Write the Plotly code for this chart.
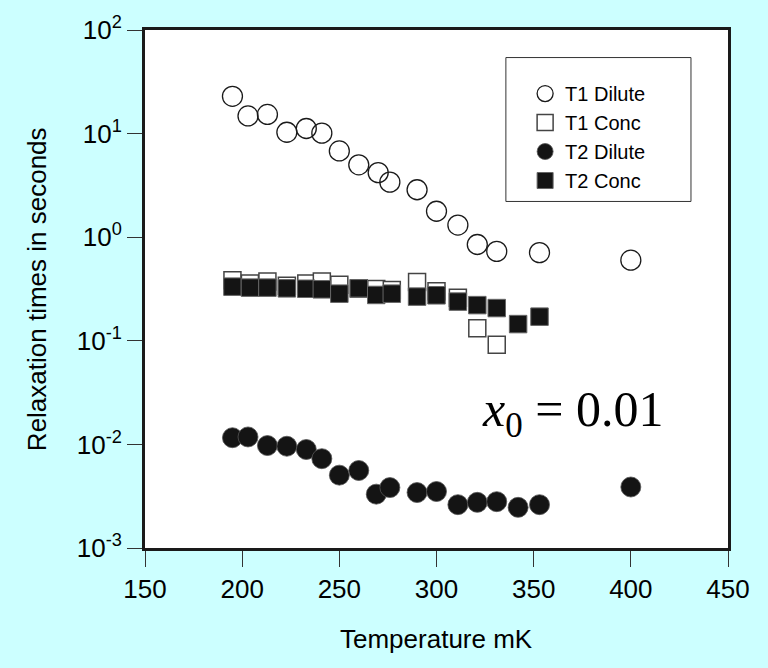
import plotly.graph_objects as go

# ---- data ----
temp_t1_dilute = [195, 203, 213, 223, 233, 241, 250, 260, 270, 276, 290, 300, 311, 321, 331, 353, 400]
t1_dilute = [22.9, 14.8, 15.3, 10.3, 11.2, 10.1, 6.8, 5.0, 4.2, 3.4, 2.87, 1.78, 1.31, 0.85, 0.73, 0.71, 0.60]

temp_t1_conc = [195, 204, 213, 223, 233, 241, 250, 260, 269, 277, 290, 300, 311, 321, 331]
t1_conc = [0.385, 0.358, 0.374, 0.340, 0.358, 0.374, 0.348, 0.320, 0.316, 0.309, 0.369, 0.301, 0.261, 0.132, 0.0914]

temp_t2_dilute = [195, 203, 213, 223, 233, 241, 250, 260, 269, 276, 290, 300, 311, 321, 331, 342, 353, 400]
t2_dilute = [0.0116, 0.0118, 0.00975, 0.0096, 0.00893, 0.00728, 0.00505, 0.0056, 0.00331, 0.00383,
             0.00343, 0.00351, 0.00262, 0.00276, 0.0028, 0.00247, 0.00262, 0.00388]

temp_t2_conc = [195, 204, 213, 223, 233, 241, 250, 260, 269, 277, 290, 300, 311, 321, 331, 342, 353]
t2_conc = [0.333, 0.326, 0.326, 0.321, 0.318, 0.314, 0.285, 0.321, 0.277, 0.285, 0.267, 0.275,
           0.239, 0.221, 0.207, 0.145, 0.171]

x_ticks = [150, 200, 250, 300, 350, 400, 450]
y_ticks = [1e-3, 1e-2, 1e-1, 1e0, 1e1, 1e2]
y_ticktext = ["10<sup>-3</sup>", "10<sup>-2</sup>", "10<sup>-1</sup>", "10<sup>0</sup>", "10<sup>1</sup>", "10<sup>2</sup>"]

FONT = "Arial, Liberation Sans, sans-serif"
INK = "#1a1a1a"

fig = go.Figure()
fig.add_trace(go.Scatter(x=temp_t1_dilute, y=t1_dilute, mode="markers", name="T1 Dilute",
                         marker=dict(symbol="circle-open", size=20, color=INK, line=dict(width=1.3, color=INK))))
fig.add_trace(go.Scatter(x=temp_t1_conc, y=t1_conc, mode="markers", name="T1 Conc",
                         marker=dict(symbol="square", size=17, color="white", line=dict(width=1.5, color="#444"))))
fig.add_trace(go.Scatter(x=temp_t2_dilute, y=t2_dilute, mode="markers", name="T2 Dilute",
                         marker=dict(symbol="circle", size=20, color="#141414", line=dict(width=0.8, color="#555"))))
fig.add_trace(go.Scatter(x=temp_t2_conc, y=t2_conc, mode="markers", name="T2 Conc",
                         marker=dict(symbol="square", size=17.5, color="#141414", line=dict(width=1, color="#666"))))

fig.update_layout(
    width=768, height=668, autosize=False,
    margin=dict(l=145, r=40, t=22, b=120),
    paper_bgcolor="#CCFFFF", plot_bgcolor="white",
    font=dict(family=FONT, color="black"),
    showlegend=True,
    legend=dict(x=0.652, y=0.915, xanchor="left", yanchor="top",
                bgcolor="rgba(0,0,0,0)", borderwidth=0,
                font=dict(size=20, family=FONT, color="black")),
    xaxis=dict(range=[150, 450], tickvals=x_ticks, ticks="outside", ticklen=16, tickwidth=1,
               tickcolor="#333", showline=True, linewidth=3, linecolor=INK, mirror=True,
               showgrid=False, zeroline=False, tickfont=dict(size=26, family=FONT)),
    yaxis=dict(type="log", range=[-3, 2], tickvals=y_ticks, ticktext=y_ticktext, ticks="outside",
               ticklen=15, tickwidth=1, tickcolor="#333", showline=True, linewidth=3, linecolor=INK,
               mirror=True, showgrid=False, zeroline=False, tickfont=dict(size=26, family=FONT)),
    shapes=[dict(type="rect", xref="paper", yref="paper", x0=0.619, x1=0.9365, y0=0.669, y1=0.9468,
                 line=dict(color="#333", width=1), fillcolor="rgba(0,0,0,0)", layer="below")],
    annotations=[
        dict(text="Temperature mK", xref="paper", yref="paper", x=0.5, y=-0.175,
             xanchor="center", yanchor="middle", showarrow=False, font=dict(size=26, family=FONT)),
        dict(text="Relaxation times in seconds", xref="paper", yref="paper", x=-0.185, y=0.5,
             xanchor="center", yanchor="middle", textangle=-90, showarrow=False,
             font=dict(size=26, family=FONT)),
        dict(text="<i>x</i><sub>0</sub> = 0.01", xref="paper", yref="paper", x=0.575, y=0.2605,
             xanchor="left", yanchor="middle", showarrow=False,
             font=dict(size=50, family="Liberation Serif, Times New Roman, serif")),
    ],
)

fig.write_html("out.html")
